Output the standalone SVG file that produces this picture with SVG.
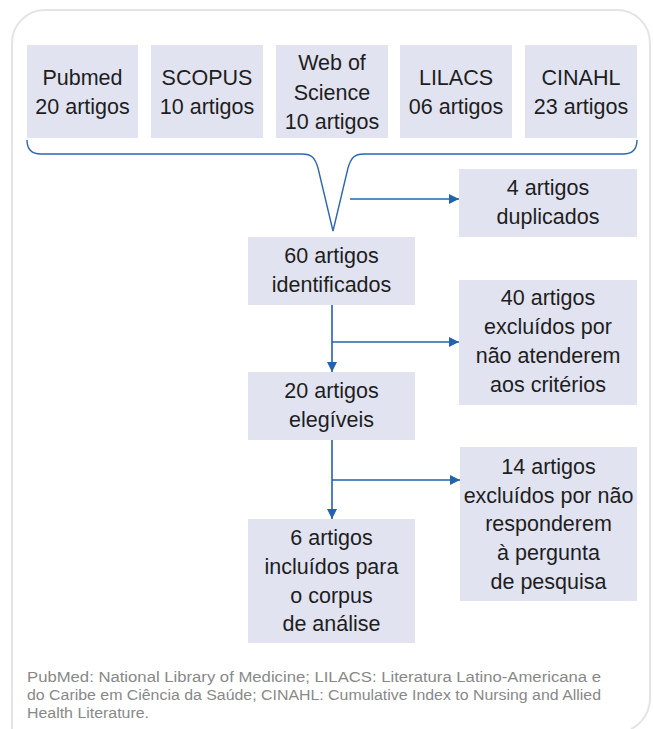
<svg xmlns="http://www.w3.org/2000/svg" width="653" height="729" viewBox="0 0 653 729">
<defs>
<style>
.box{fill:#e1e3f1;}
.t{font-family:"Liberation Sans",Arial,sans-serif;font-size:21.5px;fill:#1e1e1e;text-anchor:middle;}
.note{font-family:"Liberation Sans",Arial,sans-serif;font-size:14px;fill:#888888;}
.ln{fill:none;stroke:#2363ad;stroke-width:1.6;}
.br{fill:none;stroke:#2a68b0;stroke-width:1.4;}
</style>
<marker id="ah" viewBox="0 0 10 10" refX="10" refY="5" markerWidth="10" markerHeight="10" markerUnits="userSpaceOnUse" orient="auto">
<path d="M0,0 L10,5 L0,10 Z" fill="#2363ad"/>
</marker>
</defs>
<rect width="653" height="729" fill="#ffffff"/>
<path d="M12,729 V43 A33,33 0 0 1 45,10 H617 A33,33 0 0 1 650,43 V698 A34,34 0 0 1 631,729" fill="none" stroke="#e4e4e4" stroke-width="2"/>

<g id="n-pubmed"><rect class="box" x="27" y="45" width="111" height="93"/><text class="t" x="82.5" y="85">Pubmed</text><text class="t" x="82.5" y="114">20 artigos</text></g>
<g id="n-scopus"><rect class="box" x="151" y="45" width="112" height="93"/><text class="t" x="207" y="85">SCOPUS</text><text class="t" x="207" y="114">10 artigos</text></g>
<g id="n-wos"><rect class="box" x="276" y="45" width="112" height="93"/><text class="t" x="332" y="70">Web of</text><text class="t" x="332" y="100">Science</text><text class="t" x="332" y="129">10 artigos</text></g>
<g id="n-lilacs"><rect class="box" x="400" y="45" width="112" height="93"/><text class="t" x="456" y="85">LILACS</text><text class="t" x="456" y="114">06 artigos</text></g>
<g id="n-cinahl"><rect class="box" x="525" y="45" width="112" height="93"/><text class="t" x="581" y="85">CINAHL</text><text class="t" x="581" y="114">23 artigos</text></g>

<g id="n-dup"><rect class="box" x="459" y="169" width="178" height="68"/><text class="t" x="548" y="195">4 artigos</text><text class="t" x="548" y="224">duplicados</text></g>
<g id="n-ident"><rect class="box" x="248" y="237" width="167" height="68"/><text class="t" x="331.5" y="263">60 artigos</text><text class="t" x="331.5" y="292">identificados</text></g>
<g id="n-excl40"><rect class="box" x="459" y="280" width="178" height="125"/><text class="t" x="548" y="305">40 artigos</text><text class="t" x="548" y="334">excluídos por</text><text class="t" x="548" y="363">não atenderem</text><text class="t" x="548" y="392">aos critérios</text></g>
<g id="n-eleg"><rect class="box" x="248" y="372" width="167" height="68"/><text class="t" x="331.5" y="398">20 artigos</text><text class="t" x="331.5" y="427">elegíveis</text></g>
<g id="n-excl14"><rect class="box" x="460" y="447" width="177" height="154"/><text class="t" x="548.5" y="474">14 artigos</text><text class="t" x="548.5" y="503">excluídos por não</text><text class="t" x="548.5" y="531">responderem</text><text class="t" x="548.5" y="560">à pergunta</text><text class="t" x="548.5" y="589">de pesquisa</text></g>
<g id="n-incl"><rect class="box" x="248" y="519" width="167" height="124"/><text class="t" x="331.5" y="545">6 artigos</text><text class="t" x="331.5" y="574">incluídos para</text><text class="t" x="331.5" y="603">o corpus</text><text class="t" x="331.5" y="631">de análise</text></g>

<g id="connectors">
<path class="br" d="M27,140 Q27,154 41,154 H302 C312,154 315,158 318,168 L333,231 L348,168 C351,158 354,154 364,154 H623 Q637,154 637,140"/>
<line class="ln" x1="350" y1="199" x2="459" y2="199" marker-end="url(#ah)"/>
<line class="ln" x1="332" y1="305" x2="332" y2="372" marker-end="url(#ah)"/>
<line class="ln" x1="332" y1="342" x2="459" y2="342" marker-end="url(#ah)"/>
<line class="ln" x1="332" y1="440" x2="332" y2="519" marker-end="url(#ah)"/>
<line class="ln" x1="332" y1="480" x2="460" y2="480" marker-end="url(#ah)"/>
</g>

<g id="footnote">
<text class="note" x="27" y="682" textLength="574" lengthAdjust="spacingAndGlyphs">PubMed: National Library of Medicine; LILACS: Literatura Latino-Americana e</text>
<text class="note" x="27" y="700" textLength="574" lengthAdjust="spacingAndGlyphs">do Caribe em Ciência da Saúde; CINAHL: Cumulative Index to Nursing and Allied</text>
<text class="note" x="27" y="718" textLength="122" lengthAdjust="spacingAndGlyphs">Health Literature.</text>
</g>
</svg>
